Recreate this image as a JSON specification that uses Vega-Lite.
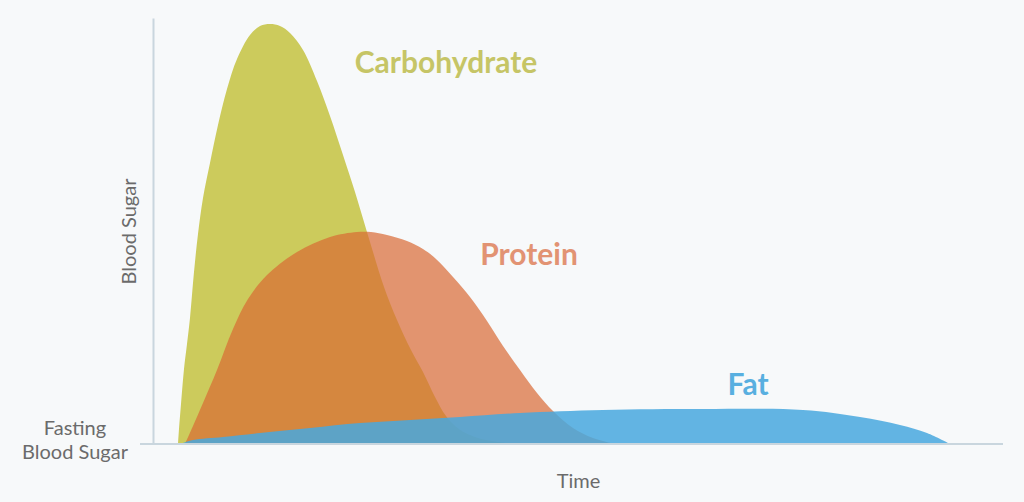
{
  "$schema": "https://vega.github.io/schema/vega-lite/v6.json",
  "width": 850,
  "height": 426,
  "autosize": {"type": "none"},
  "padding": {"left": 153, "top": 18, "right": 21, "bottom": 58},
  "background": "#f7f9fa",
  "config": {"view": {"stroke": null}, "font": "Lato"},
  "datasets": {
    "curves": [
      {"series": "Carbohydrate", "t": 25, "v": 0},
      {"series": "Carbohydrate", "t": 26, "v": 15},
      {"series": "Carbohydrate", "t": 28, "v": 40},
      {"series": "Carbohydrate", "t": 31, "v": 75},
      {"series": "Carbohydrate", "t": 34, "v": 100},
      {"series": "Carbohydrate", "t": 37, "v": 126},
      {"series": "Carbohydrate", "t": 41, "v": 172},
      {"series": "Carbohydrate", "t": 45, "v": 210},
      {"series": "Carbohydrate", "t": 50, "v": 246},
      {"series": "Carbohydrate", "t": 57, "v": 281},
      {"series": "Carbohydrate", "t": 65, "v": 319},
      {"series": "Carbohydrate", "t": 74, "v": 355},
      {"series": "Carbohydrate", "t": 84, "v": 385},
      {"series": "Carbohydrate", "t": 97, "v": 409},
      {"series": "Carbohydrate", "t": 107, "v": 418},
      {"series": "Carbohydrate", "t": 117, "v": 420},
      {"series": "Carbohydrate", "t": 127, "v": 418},
      {"series": "Carbohydrate", "t": 137, "v": 411},
      {"series": "Carbohydrate", "t": 150, "v": 394},
      {"series": "Carbohydrate", "t": 164, "v": 363},
      {"series": "Carbohydrate", "t": 177, "v": 328},
      {"series": "Carbohydrate", "t": 190, "v": 289},
      {"series": "Carbohydrate", "t": 202, "v": 252},
      {"series": "Carbohydrate", "t": 211, "v": 222},
      {"series": "Carbohydrate", "t": 220, "v": 192},
      {"series": "Carbohydrate", "t": 231, "v": 157},
      {"series": "Carbohydrate", "t": 244, "v": 124},
      {"series": "Carbohydrate", "t": 258, "v": 94},
      {"series": "Carbohydrate", "t": 270, "v": 72},
      {"series": "Carbohydrate", "t": 282, "v": 47},
      {"series": "Carbohydrate", "t": 293, "v": 28},
      {"series": "Carbohydrate", "t": 306, "v": 15},
      {"series": "Carbohydrate", "t": 322, "v": 7},
      {"series": "Carbohydrate", "t": 345, "v": 2},
      {"series": "Carbohydrate", "t": 370, "v": 0},
      {"series": "Protein", "t": 32, "v": 0},
      {"series": "Protein", "t": 40, "v": 18},
      {"series": "Protein", "t": 50, "v": 41},
      {"series": "Protein", "t": 64, "v": 74},
      {"series": "Protein", "t": 80, "v": 115},
      {"series": "Protein", "t": 95, "v": 145},
      {"series": "Protein", "t": 114, "v": 169},
      {"series": "Protein", "t": 144, "v": 192},
      {"series": "Protein", "t": 177, "v": 207},
      {"series": "Protein", "t": 204, "v": 212},
      {"series": "Protein", "t": 218, "v": 212},
      {"series": "Protein", "t": 234, "v": 209},
      {"series": "Protein", "t": 254, "v": 203},
      {"series": "Protein", "t": 270, "v": 195},
      {"series": "Protein", "t": 283, "v": 185},
      {"series": "Protein", "t": 300, "v": 167},
      {"series": "Protein", "t": 317, "v": 147},
      {"series": "Protein", "t": 334, "v": 123},
      {"series": "Protein", "t": 350, "v": 98},
      {"series": "Protein", "t": 367, "v": 74},
      {"series": "Protein", "t": 384, "v": 51},
      {"series": "Protein", "t": 400, "v": 33},
      {"series": "Protein", "t": 420, "v": 16},
      {"series": "Protein", "t": 440, "v": 6},
      {"series": "Protein", "t": 462, "v": 0},
      {"series": "Fat", "t": 27, "v": 0},
      {"series": "Fat", "t": 40, "v": 4},
      {"series": "Fat", "t": 70, "v": 7},
      {"series": "Fat", "t": 107, "v": 11},
      {"series": "Fat", "t": 157, "v": 16},
      {"series": "Fat", "t": 207, "v": 21},
      {"series": "Fat", "t": 257, "v": 24},
      {"series": "Fat", "t": 307, "v": 27},
      {"series": "Fat", "t": 367, "v": 31},
      {"series": "Fat", "t": 450, "v": 34},
      {"series": "Fat", "t": 550, "v": 35},
      {"series": "Fat", "t": 650, "v": 34},
      {"series": "Fat", "t": 707, "v": 27},
      {"series": "Fat", "t": 747, "v": 19},
      {"series": "Fat", "t": 774, "v": 11},
      {"series": "Fat", "t": 797, "v": 0}
    ],
    "labels": [
      {"label": "Carbohydrate", "t": 293, "v": 371, "series": "Carbohydrate"},
      {"label": "Protein", "t": 376, "v": 179, "series": "Protein"},
      {"label": "Fat", "t": 595, "v": 49, "series": "Fat"}
    ],
    "fasting": [
      {"label": "Fasting\nBlood Sugar", "t": -78, "v": 9}
    ],
    "baseline": [
      {"t1": -13, "t2": 850, "v": 0}
    ]
  },
  "layer": [
    {
      "data": {"name": "curves"},
      "transform": [{"filter": "datum.series === 'Carbohydrate'"}],
      "mark": {"type": "area", "interpolate": "catmull-rom", "color": "#cccb5c"},
      "encoding": {
        "x": {"field": "t", "type": "quantitative", "scale": {"domain": [0, 850], "nice": false, "zero": false},
          "axis": {"title": "Time", "domain": false, "ticks": false, "labels": false, "grid": false,
            "titleFont": "Lato", "titleFontSize": 20, "titleFontWeight": "normal", "titleColor": "#6b6b6b", "titlePadding": 27}},
        "y": {"field": "v", "type": "quantitative", "scale": {"domain": [0, 426], "nice": false},
          "axis": {"title": "Blood Sugar", "domain": true, "domainColor": "#c9d6de", "domainWidth": 2, "ticks": false, "labels": false, "grid": false,
            "titleFont": "Lato", "titleFontSize": 20, "titleFontWeight": "normal", "titleColor": "#6b6b6b", "titlePadding": 14}}
      }
    },
    {
      "data": {"name": "curves"},
      "transform": [{"filter": "datum.series === 'Protein'"}],
      "mark": {"type": "area", "interpolate": "catmull-rom", "color": "#d96933", "opacity": 0.7},
      "encoding": {
        "x": {"field": "t", "type": "quantitative"},
        "y": {"field": "v", "type": "quantitative"}
      }
    },
    {
      "data": {"name": "curves"},
      "transform": [{"filter": "datum.series === 'Fat'"}],
      "mark": {"type": "area", "interpolate": "catmull-rom", "color": "#48a8de", "opacity": 0.85},
      "encoding": {
        "x": {"field": "t", "type": "quantitative"},
        "y": {"field": "v", "type": "quantitative"}
      }
    },
    {
      "data": {"name": "baseline"},
      "mark": {"type": "rule", "color": "#c9d6de", "strokeWidth": 2},
      "encoding": {
        "x": {"field": "t1", "type": "quantitative"},
        "x2": {"field": "t2"},
        "y": {"field": "v", "type": "quantitative"}
      }
    },
    {
      "data": {"name": "labels"},
      "mark": {"type": "text", "font": "Lato", "fontSize": 30, "fontWeight": "bold", "align": "center", "baseline": "alphabetic"},
      "encoding": {
        "x": {"field": "t", "type": "quantitative"},
        "y": {"field": "v", "type": "quantitative"},
        "text": {"field": "label"},
        "color": {"field": "series", "type": "nominal", "legend": null,
          "scale": {"domain": ["Carbohydrate", "Protein", "Fat"], "range": ["#c6c566", "#e29373", "#58afe0"]}}
      }
    },
    {
      "data": {"name": "fasting"},
      "mark": {"type": "text", "font": "Lato", "fontSize": 20, "color": "#6b6b6b", "align": "center", "baseline": "alphabetic", "lineBreak": "\n", "lineHeight": 24},
      "encoding": {
        "x": {"field": "t", "type": "quantitative"},
        "y": {"field": "v", "type": "quantitative"},
        "text": {"field": "label"}
      }
    }
  ]
}
